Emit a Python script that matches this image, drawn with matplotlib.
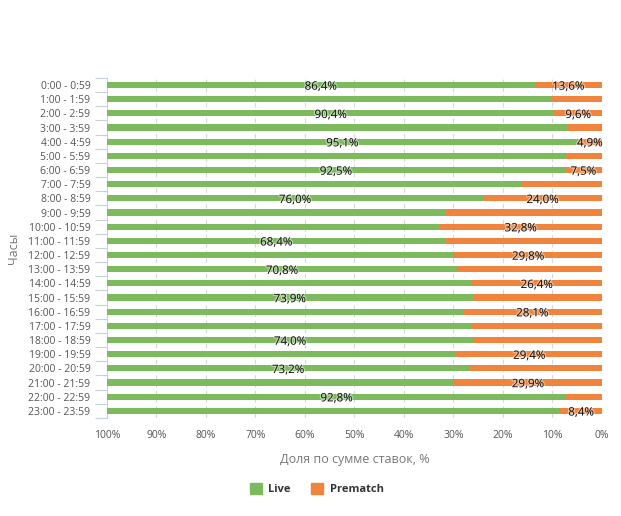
import numpy as np
import matplotlib.pyplot as plt
import matplotlib.patheffects as pe
from matplotlib.patches import Patch

plt.rcParams['font.family'] = ['Open Sans', 'DejaVu Sans']

hours = ['0:00 - 0:59', '1:00 - 1:59', '2:00 - 2:59', '3:00 - 3:59', '4:00 - 4:59',
         '5:00 - 5:59', '6:00 - 6:59', '7:00 - 7:59', '8:00 - 8:59', '9:00 - 9:59',
         '10:00 - 10:59', '11:00 - 11:59', '12:00 - 12:59', '13:00 - 13:59',
         '14:00 - 14:59', '15:00 - 15:59', '16:00 - 16:59', '17:00 - 17:59',
         '18:00 - 18:59', '19:00 - 19:59', '20:00 - 20:59', '21:00 - 21:59',
         '22:00 - 22:59', '23:00 - 23:59']
live = [86.4, 89.8, 90.4, 93.0, 95.1, 92.7, 92.5, 83.6, 76.0, 68.4, 67.2, 68.4,
        70.2, 70.8, 73.6, 73.9, 71.9, 73.5, 74.0, 70.6, 73.2, 70.1, 92.8, 91.6]
prematch = [round(100 - v, 1) for v in live]
# which labels are shown in the original
show_live = [0, 2, 4, 6, 8, 11, 13, 15, 18, 20, 22]
show_pre = [0, 2, 4, 6, 8, 10, 12, 14, 16, 19, 21, 23]

green = '#7dba5e'
orange = '#f0843d'

fig = plt.figure(figsize=(6.21, 5.16), dpi=100)
ax = fig.add_axes([0.1723, 0.19, 0.7971, 0.659])

y = np.arange(len(hours))
pre = np.array(prematch)
lv = np.array(live)
ax.barh(y, pre, height=0.44, color=orange, zorder=3)
ax.barh(y, lv, left=pre, height=0.44, color=green, zorder=3)

ax.set_xlim(100, 0)
ax.set_ylim(len(hours) - 0.5, -0.5)

fmt = lambda v: f'{v:.1f}%'.replace('.', ',')
halo = [pe.withStroke(linewidth=1.8, foreground='white', alpha=0.45)]
for i in show_live:
    ax.text(pre[i] + lv[i] / 2, i + 0.08, fmt(lv[i]), ha='center', va='center',
            fontsize=8.3, color='#111111', zorder=4, path_effects=halo)
for i in show_pre:
    ax.text(pre[i] / 2, i + 0.08, fmt(pre[i]), ha='center', va='center',
            fontsize=8.3, color='#111111', zorder=4, path_effects=halo)

ax.set_xticks(np.arange(0, 101, 10))
ax.set_xticklabels([f'{t}%' for t in range(0, 101, 10)])
ax.set_yticks(y)
ax.set_yticklabels(hours)
ax.set_yticks(np.arange(-0.5, len(hours), 1), minor=True)
ax.tick_params(axis='y', which='major', length=0, labelsize=7.5, labelcolor='#555555', pad=12)
ax.tick_params(axis='y', which='minor', length=9, color='#c8d0dc', width=0.8)
ax.tick_params(axis='x', length=0, labelsize=7.5, labelcolor='#555555', pad=9)

ax.grid(axis='x', color='#d8d8d8', linestyle=(0, (4, 3)), linewidth=0.8, zorder=0)
for s in ['top', 'right', 'bottom']:
    ax.spines[s].set_visible(False)
ax.spines['left'].set_color('#c8d0dc')

ax.set_xlabel('Доля по сумме ставок, %', fontsize=9, color='#777777', labelpad=8)
ax.set_ylabel('Часы', fontsize=9, color='#777777', labelpad=6)

handles = [Patch(color=green, label='Live'), Patch(color=orange, label='Prematch')]
leg = fig.legend(handles=handles, loc='center', bbox_to_anchor=(0.51, 0.052), ncol=2,
                 frameon=False, handlelength=1.1, handleheight=1.1,
                 columnspacing=1.8, handletextpad=0.6, prop={'weight': 'bold', 'size': 8})
for t in leg.get_texts():
    t.set_color('#333333')

fig.savefig('out.png', dpi=100)
